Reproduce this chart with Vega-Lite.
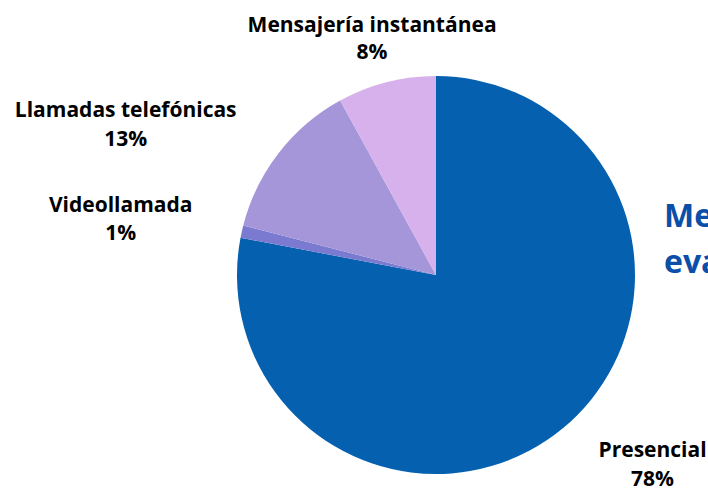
{
  "$schema": "https://vega.github.io/schema/vega-lite/v6.json",
  "width": 544,
  "height": 430,
  "autosize": "none",
  "padding": {"left": 164, "top": 60, "right": 0, "bottom": 0},
  "background": "white",
  "config": {"view": {"stroke": null}, "font": "Open Sans"},
  "title": {
    "text": ["Medios de", "evaluación"],
    "orient": "top",
    "anchor": "start",
    "frame": "group",
    "font": "Open Sans",
    "fontSize": 32,
    "fontWeight": "bold",
    "color": "#0b4fa9",
    "baseline": "top",
    "lineHeight": 46,
    "dx": 500,
    "dy": 345
  },
  "data": {
    "values": [
      {"medio": "Presencial", "pct": 78, "orden": 1},
      {"medio": "Videollamada", "pct": 1, "orden": 2},
      {"medio": "Llamadas telefónicas", "pct": 13, "orden": 3},
      {"medio": "Mensajería instantánea", "pct": 8, "orden": 4}
    ]
  },
  "transform": [{"calculate": "datum.medio + '\\n' + datum.pct + '%'", "as": "label"}],
  "encoding": {
    "theta": {"field": "pct", "type": "quantitative", "stack": true},
    "order": {"field": "orden", "type": "quantitative"},
    "color": {
      "field": "medio",
      "type": "nominal",
      "scale": {
        "domain": ["Presencial", "Videollamada", "Llamadas telefónicas", "Mensajería instantánea"],
        "range": ["#0560b0", "#7a7bd0", "#a595d9", "#d7b1ec"]
      },
      "legend": null
    }
  },
  "layer": [
    {"mark": {"type": "arc", "outerRadius": 199}},
    {
      "mark": {"type": "text", "radius": 288, "dx": 33, "dy": -46, "fontSize": 21, "fontWeight": "bold", "lineBreak": "\n", "lineHeight": 29, "align": "center", "baseline": "middle"},
      "encoding": {
        "color": {"value": "black"},
        "text": {"condition": {"test": "datum.medio === 'Presencial'", "field": "label"}, "value": ""}
      }
    },
    {
      "mark": {"type": "text", "radius": 319, "dx": -4, "dy": 1, "fontSize": 21, "fontWeight": "bold", "lineBreak": "\n", "lineHeight": 28, "align": "center", "baseline": "middle"},
      "encoding": {
        "color": {"value": "black"},
        "text": {"condition": {"test": "datum.medio === 'Videollamada'", "field": "label"}, "value": ""}
      }
    },
    {
      "mark": {"type": "text", "radius": 375, "dx": -14, "dy": 66, "fontSize": 21, "fontWeight": "bold", "lineBreak": "\n", "lineHeight": 29, "align": "center", "baseline": "middle"},
      "encoding": {
        "color": {"value": "black"},
        "text": {"condition": {"test": "datum.medio === 'Llamadas telefónicas'", "field": "label"}, "value": ""}
      }
    },
    {
      "mark": {"type": "text", "radius": 245, "dx": -3, "dy": -12, "fontSize": 21, "fontWeight": "bold", "lineBreak": "\n", "lineHeight": 27, "align": "center", "baseline": "middle"},
      "encoding": {
        "color": {"value": "black"},
        "text": {"condition": {"test": "datum.medio === 'Mensajería instantánea'", "field": "label"}, "value": ""}
      }
    }
  ]
}
